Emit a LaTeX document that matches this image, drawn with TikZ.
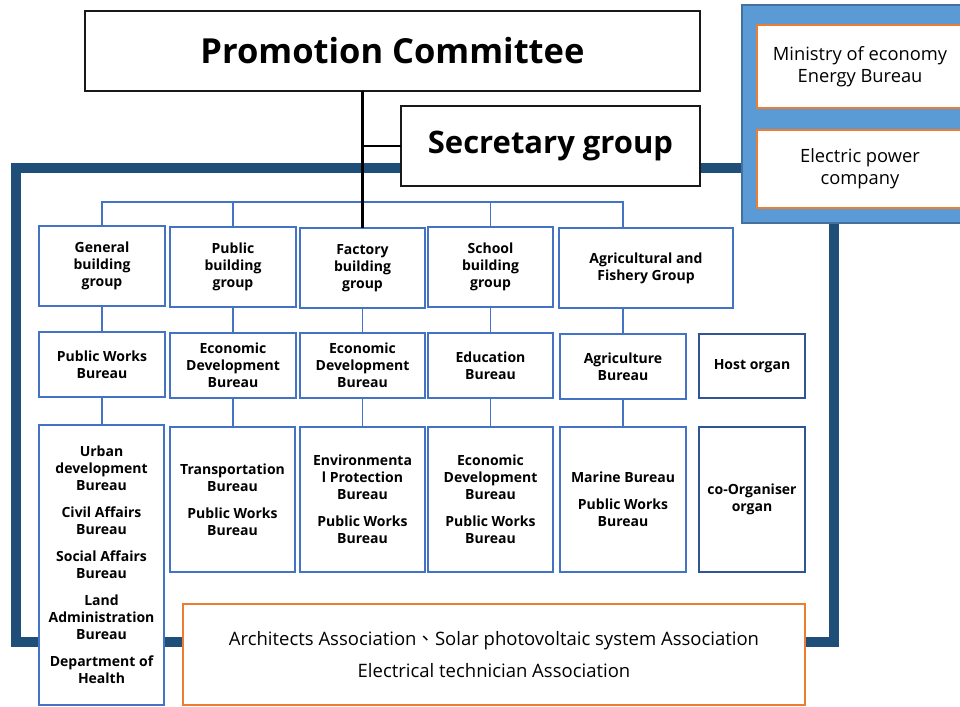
\documentclass[tikz,border=0pt]{standalone}
\usepackage{fontspec}
\setmainfont{Open Sans}
\newfontfamily\cjk{Noto Sans CJK TC}
\usetikzlibrary{calc}
\definecolor{frameblue}{HTML}{1F4E79}
\definecolor{grpblue}{HTML}{4472C4}
\definecolor{skyfill}{HTML}{5B9BD5}
\definecolor{skyedge}{HTML}{41719C}
\definecolor{orng}{HTML}{ED7D31}
\definecolor{navy}{HTML}{2F5597}
\begin{document}
\begin{tikzpicture}[x=1pt,y=-1pt,
  every node/.style={inner sep=0pt, outer sep=0pt, align=center},
  bigbox/.style={draw=black!90, line width=2pt, fill=white, font=\fontsize{34.5}{40}\selectfont\bfseries},
  secbox/.style={bigbox, font=\fontsize{31}{36}\selectfont\bfseries},
  grp/.style={draw=grpblue, line width=1.5pt, fill=white, font=\fontsize{14}{17}\selectfont\bfseries},
  hostbox/.style={grp, draw=navy},
  orgbox/.style={draw=orng, line width=1.5pt, fill=white, font=\fontsize{18.3}{22}\selectfont},
  panel/.style={draw=skyedge, line width=1.5pt, fill=skyfill},
  conn/.style={draw=grpblue, line width=1.5pt},
  mainline/.style={draw=black, line width=3pt},
  sideline/.style={draw=black, line width=2pt},
  frameline/.style={draw=frameblue, line width=10pt},
]
\useasboundingbox (0,0) rectangle (960,706);
\clip (0,0) rectangle (960,706);
\fill[white] (0,0) rectangle (960,706);

% outer frame
\draw[frameline] (16,168) rectangle (833.5,642);

% right panel
\node[panel, minimum width=240pt, minimum height=218pt] (panel) at (862,114) {};
\node[orgbox, minimum width=206pt, minimum height=83pt] (moe) at (860,66.5) {Ministry of economy\\Energy Bureau};
\node[orgbox, minimum width=206pt, minimum height=78pt] (epc) at (860,169) {Electric power\\company};

% top boxes
\node[bigbox, minimum width=615pt, minimum height=80pt] (title) at (392.5,51) {Promotion Committee};
\node[secbox, minimum width=299pt, minimum height=80pt] (sec) at (550.5,146) {Secretary group};

% groups
\node[grp, minimum width=126pt, minimum height=80pt] (gen) at (102,266) {General\\building\\group};
\node[grp, minimum width=126pt, minimum height=80pt] (pub) at (233,267) {Public\\building\\group};
\node[grp, minimum width=125pt, minimum height=80pt] (fac) at (362.5,268) {Factory\\building\\group};
\node[grp, minimum width=125pt, minimum height=80pt] (sch) at (490.5,267) {School\\building\\group};
\node[grp, minimum width=174pt, minimum height=80pt] (agr) at (646,268) {Agricultural and\\Fishery Group};

% host bureaus
\node[grp, minimum width=126pt, minimum height=65pt] (pwb) at (102,364.5) {Public Works\\Bureau};
\node[grp, minimum width=126pt, minimum height=65pt] (edbA) at (233,365.5) {Economic\\Development\\Bureau};
\node[grp, minimum width=125pt, minimum height=65pt] (edbB) at (362.5,365.5) {Economic\\Development\\Bureau};
\node[grp, minimum width=125pt, minimum height=65pt] (edu) at (490.5,365.5) {Education\\Bureau};
\node[grp, minimum width=126pt, minimum height=65pt] (agb) at (623,366.5) {Agriculture\\Bureau};
\node[hostbox, minimum width=106pt, minimum height=64pt] (host) at (752,366) {Host organ};

% co-organisers
\node[grp, minimum width=125pt, minimum height=280pt] (lstA) at (101.5,565) {Urban\\development\\Bureau\\[10pt]Civil Affairs\\Bureau\\[10pt]Social Affairs\\Bureau\\[10pt]Land\\Administration\\Bureau\\[10pt]Department of\\Health};
\node[grp, minimum width=125pt, minimum height=145pt] (lstB) at (232.5,499.5) {Transportation\\Bureau\\[10pt]Public Works\\Bureau};
\node[grp, minimum width=125pt, minimum height=145pt] (lstC) at (362.5,499.5) {Environmenta\\l Protection\\Bureau\\[10pt]Public Works\\Bureau};
\node[grp, minimum width=125pt, minimum height=145pt] (lstD) at (490.5,499.5) {Economic\\Development\\Bureau\\[10pt]Public Works\\Bureau};
\node[grp, minimum width=126pt, minimum height=145pt] (lstE) at (623,499.5) {Marine Bureau\\[10pt]Public Works\\Bureau};
\node[hostbox, minimum width=106pt, minimum height=145pt] (coorg) at (752,499.5) {co-Organiser\\organ};

% associations
\node[orgbox, minimum width=622pt, minimum height=101pt, font=\fontsize{18.5}{32}\selectfont] (assoc) at (494,654.5) {Architects Association{\cjk 、}Solar photovoltaic system Association\\Electrical technician Association};

% blue tree
\coordinate (bus) at (0,202);
\coordinate (agtop) at (agb.north |- agr.north);
\draw[conn] (gen.north) -- (gen.north |- bus) -- (bus -| agtop) -- (agtop);
\draw[conn] (pub.north) -- (pub.north |- bus);
\draw[conn] (sch.north) -- (sch.north |- bus);

% vertical links
\draw[conn] (gen.south) -- (gen.south |- pwb.north);
\draw[conn] (pub.south) -- (pub.south |- edbA.north);
\draw[conn] (fac.south) -- (fac.south |- edbB.north);
\draw[conn] (sch.south) -- (sch.south |- edu.north);
\draw[conn] (agb.north |- agr.south) -- (agb.north);
\draw[conn] (pwb.south) -- (pwb.south |- lstA.north);
\draw[conn] (edbA.south) -- (edbA.south |- lstB.north);
\draw[conn] (edbB.south) -- (edbB.south |- lstC.north);
\draw[conn] (edu.south) -- (edu.south |- lstD.north);
\draw[conn] (agb.south) -- (agb.south |- lstE.north);

% black lines
\draw[mainline] (title.south -| fac.north) -- (fac.north);
\draw[sideline] (sec.west -| fac.north) -- (sec.west);
\end{tikzpicture}
\end{document}
